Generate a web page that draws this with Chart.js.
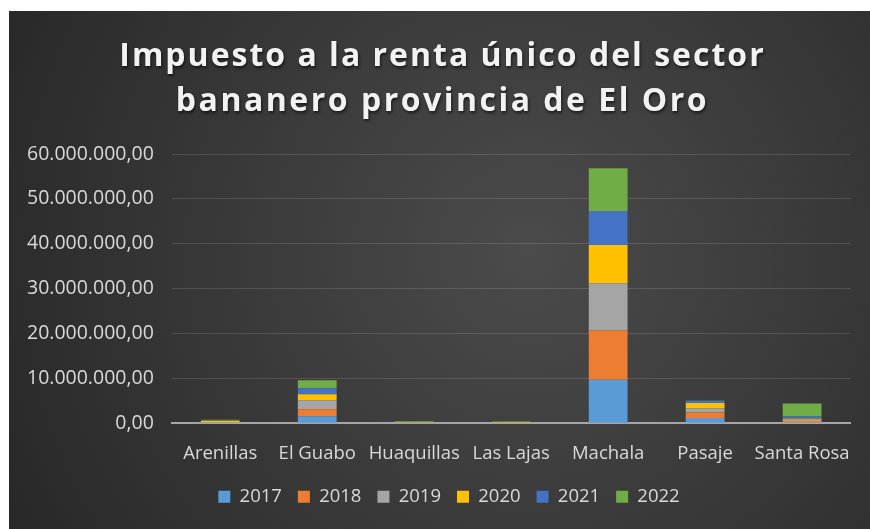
<!DOCTYPE html>
<html>
<head>
<meta charset="utf-8">
<script src="https://cdn.jsdelivr.net/npm/chart.js@4.4.1/dist/chart.umd.min.js"></script>
<style>
  html, body { margin: 0; padding: 0; background: #fff; }
  #wrap { position: absolute; left: 9px; top: 11px; width: 861px; height: 518px; }
</style>
</head>
<body>
<div id="wrap"><canvas id="chart"></canvas></div>
<script>
// ===================== Data ===================

const categories = ['Arenillas', 'El Guabo', 'Huaquillas', 'Las Lajas', 'Machala', 'Pasaje', 'Santa Rosa'];
const years = ['2017', '2018', '2019', '2020', '2021', '2022'];

const values2017 = [50000, 1560000, 20000, 20000, 9700000, 1200000, 200000];
const values2018 = [80000, 1560000, 30000, 30000, 11000000, 1200000, 300000];
const values2019 = [100000, 2000000, 50000, 40000, 10500000, 900000, 300000];
const values2020 = [300000, 1340000, 150000, 150000, 8500000, 1200000, 200000];
const values2021 = [50000, 1340000, 30000, 30000, 7600000, 500000, 500000];
const values2022 = [200000, 1800000, 150000, 130000, 9500000, 100000, 2900000];

const titleLines = ['Impuesto a la renta único del sector', 'bananero provincia de El Oro'];

const seriesColors = ['#5b9bd5', '#ed7d31', '#a5a5a5', '#ffc000', '#4472c4', '#70ad47'];

// ===================== Helpers ===================

function formatEs(value) {
  const parts = Math.round(value).toString().replace(/\B(?=(\d{3})+(?!\d))/g, '.');
  return parts + ',00';
}

const backgroundPlugin = {
  id: 'background',
  beforeDraw(chart) {
    const ctx = chart.ctx;
    const w = chart.width, h = chart.height;
    ctx.save();
    const g = ctx.createRadialGradient(520, 240, 0, 520, 240, 620);
    g.addColorStop(0, '#4b4b4b');
    g.addColorStop(1, '#262626');
    ctx.fillStyle = g;
    ctx.fillRect(0, 0, w, h);
    ctx.restore();
  }
};

// legend sits a little right of centre in the original
const legendShiftPlugin = {
  id: 'legendShift',
  afterLayout(chart) {
    if (chart.legend) {
      chart.legend.left += 19;
      chart.legend.right += 19;
    }
  }
};

const titlePlugin = {
  id: 'spacedTitle',
  afterDraw(chart) {
    const ctx = chart.ctx;
    ctx.save();
    ctx.font = 'bold 32px "Open Sans"';
    ctx.fillStyle = '#f2f2f2';
    ctx.textAlign = 'center';
    ctx.textBaseline = 'alphabetic';
    ctx.shadowColor = 'rgba(0,0,0,0.6)';
    ctx.shadowBlur = 3;
    ctx.shadowOffsetX = 1;
    ctx.shadowOffsetY = 2;
    ctx.letterSpacing = '2px';
    ctx.fillText(titleLines[0], chart.width / 2 + 3, 55);
    ctx.letterSpacing = '2.5px';
    ctx.fillText(titleLines[1], chart.width / 2 + 3, 100);
    ctx.restore();
  }
};

// ===================== Chart ===================

const seriesValues = [values2017, values2018, values2019, values2020, values2021, values2022];

const datasets = years.map((year, i) => ({
  label: year,
  data: seriesValues[i],
  backgroundColor: seriesColors[i],
  borderWidth: 0,
  barPercentage: 0.4,
  categoryPercentage: 1.0
}));

new Chart(document.getElementById('chart'), {
  type: 'bar',
  data: { labels: categories, datasets: datasets },
  options: {
    responsive: true,
    maintainAspectRatio: false,
    animation: false,
    layout: { padding: { top: 143, left: 0, right: 19, bottom: 13 } },
    plugins: {
      title: { display: false },
      tooltip: { enabled: false },
      legend: {
        position: 'bottom',
        labels: {
          color: '#d9d9d9',
          font: { family: 'Open Sans', size: 18.5 },
          boxWidth: 12,
          boxHeight: 12,
          padding: 16
        }
      }
    },
    scales: {
      x: {
        stacked: true,
        grid: { display: false, drawTicks: false },
        border: { color: '#a6a6a6', width: 2 },
        ticks: {
          color: '#d9d9d9',
          font: { family: 'Open Sans', size: 18.5 },
          padding: 19,
          maxRotation: 0,
          autoSkip: false
        },
        afterFit: scale => { scale.height -= 12; }
      },
      y: {
        stacked: true,
        min: 0,
        max: 60000000,
        grid: { color: 'rgba(255,255,255,0.13)', drawTicks: false },
        border: { display: false },
        ticks: {
          stepSize: 10000000,
          color: '#d9d9d9',
          font: { family: 'Open Sans', size: 19.5 },
          padding: 18,
          callback: value => formatEs(value)
        }
      }
    }
  },
  plugins: [backgroundPlugin, legendShiftPlugin, titlePlugin]
});
</script>
</body>
</html>
